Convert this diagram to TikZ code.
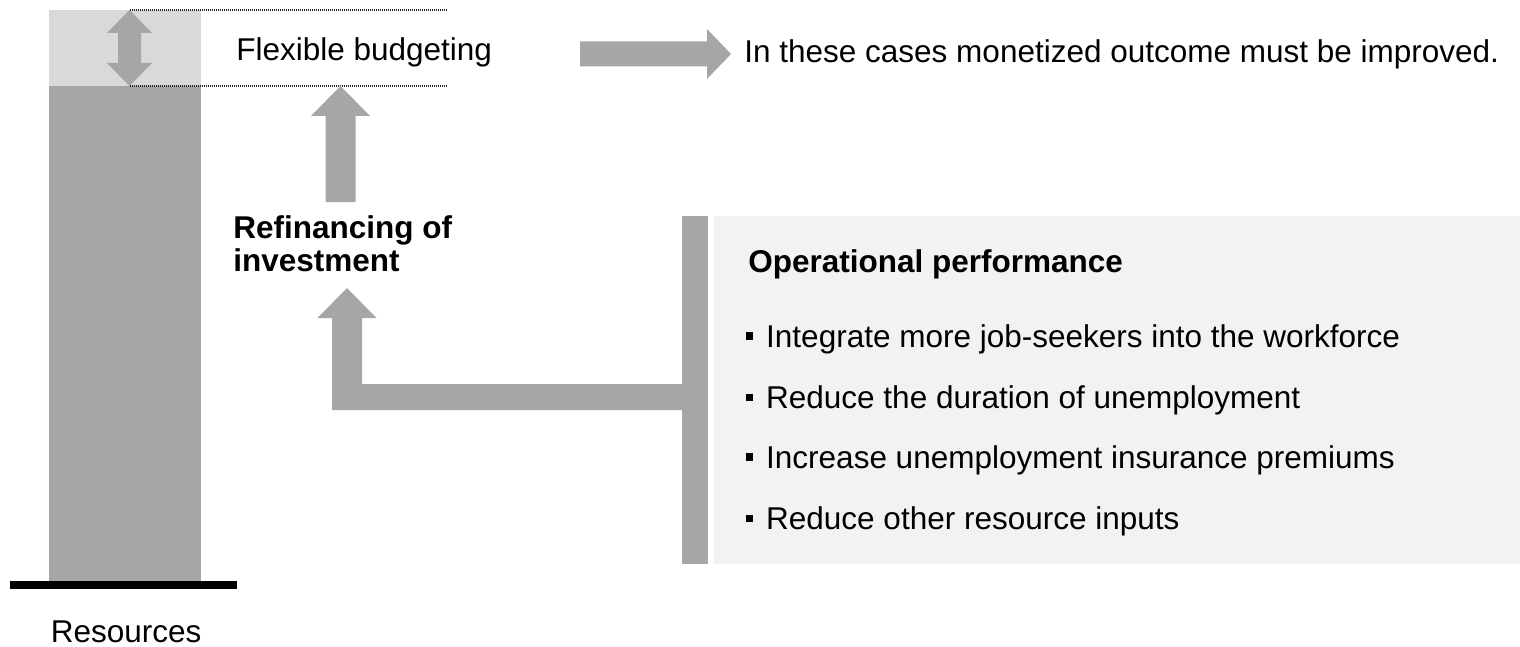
\documentclass[tikz,border=0pt]{standalone}
\usepackage{fontspec}
\setmainfont{Liberation Sans}
\definecolor{bargray}{HTML}{A6A6A6}
\definecolor{flexgray}{HTML}{D9D9D9}
\definecolor{panelgray}{HTML}{F2F2F2}
\newcommand{\sqbullet}{\raisebox{3.6pt}{\rule{3.3pt}{3.9pt}}\hspace{6.6pt}}
\tikzset{
    %Define style for plain texts
    txt/.style={
           anchor=base west,
           inner sep=0pt,
           font=\fontsize{15.75}{16.5}\selectfont},
    %Define style for bold headings
    boldtxt/.style={
           anchor=base west,
           inner sep=0pt,
           align=left,
           font=\fontsize{15.75}{16.5}\selectfont\bfseries},
    %Define style for block arrows and bars
    blk/.style={
           fill=bargray,
           draw=none},
    % Define dotted guide line
    guide/.style={
           draw=black!85,
           line width=0.6pt,
           dash pattern=on 0.5pt off 0.5pt}
}
\begin{document}
\begin{tikzpicture}[x=0.5pt,y=-0.5pt]
\useasboundingbox (0,0) rectangle (1520,647);

 %resource column
\fill[flexgray] (49,10) rectangle (201,86);
\fill[blk] (49,86) rectangle (201,581);
\draw[line width=4pt] (10,585) -- (237,585);
\node[txt] (res) at (50.5,642) {Resources};

 %flexible band
\coordinate (flextop) at (129.5,10);
\coordinate (flexbot) at (129.5,86);
\draw[guide] (flextop) -- (447,10);
\draw[guide] (flexbot) -- (447,86);
\fill[blk] (flextop) -- ++(22.5,23) -- ++(-11,0) -- ++(0,30) -- ++(11,0)
    -- (flexbot) -- ++(-22.5,-23) -- ++(11,0) -- ++(0,-30) -- ++(-11,0) -- cycle;

 %texts
\node[txt] (flex) at (236,60.5) {Flexible budgeting};
\node[txt] (cases) at (744,62.5) {In these cases monetized outcome must be improved.};
\node[boldtxt] (refin) at (233,271) {Refinancing of\\investment};

 %arrows
\coordinate (uptip) at (340.5,86);
\fill[blk] (uptip) -- ++(29.5,30) -- ++(-14.5,0) -- ++(0,86) -- ++(-30,0)
    -- ++(0,-86) -- ++(-14.5,0) -- cycle;
\coordinate (righttail) at (580,54);
\fill[blk] (righttail) ++(0,-12.5) -- ++(127,0) -- ++(0,-12.5) -- ++(24,25)
    -- ++(-24,25) -- ++(0,-12.5) -- ++(-127,0) -- cycle;

 %operational performance panel
\fill[panelgray] (714,216) rectangle (1520,564);
\fill[blk] (682,216) rectangle (708,564);
\coordinate (elbowtip) at (347,288);
\fill[blk] (elbowtip) -- ++(29.5,30) -- ++(-14.5,0) -- (362,384) -- (682,384)
    -- (682,410) -- (332,410) -- (332,318) -- ++(-14.5,0) -- cycle;

\node[boldtxt] (perf) at (748,272) {Operational performance};
\node[txt] (b1) at (746,347) {\sqbullet Integrate more job-seekers into the workforce};
\node[txt] (b2) at (746,408.5) {\sqbullet Reduce the duration of unemployment};
\node[txt] (b3) at (746,468) {\sqbullet Increase unemployment insurance premiums};
\node[txt] (b4) at (746,529.5) {\sqbullet Reduce other resource inputs};

\end{tikzpicture}
\end{document}
